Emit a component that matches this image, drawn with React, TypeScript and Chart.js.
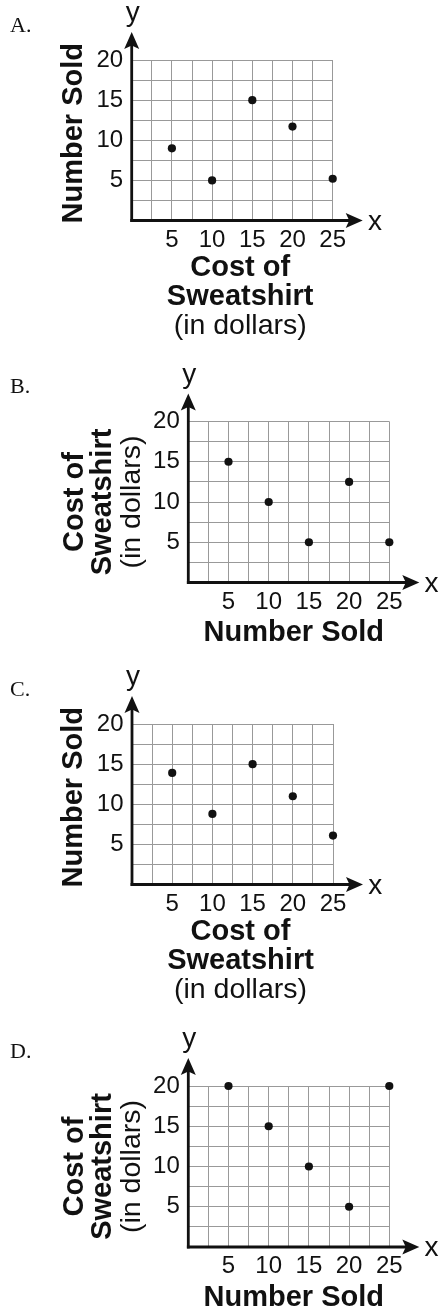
import React, { useEffect, useRef } from 'react';
import { Chart, registerables } from 'chart.js';

Chart.register(...registerables);

// ---- data ----
const xValues = [5, 10, 15, 20, 25];
const seriesA = [9, 5, 15, 11.7, 5.2];
const seriesB = [15, 10, 5, 12.5, 5];
const seriesC = [13.9, 8.8, 15, 11, 6.1];
const seriesD = [20, 15, 10, 5, 20];
const xTickLabels = ['5', '10', '15', '20', '25'];
const yTickLabels = ['5', '10', '15', '20'];
const xMax = 25;
const yMax = 20;
const gridStep = 2.5;
const costTitle = ['Cost of', 'Sweatshirt', '(in dollars)'];
const soldTitle = ['Number Sold'];
const panelLetters = ['A.', 'B.', 'C.', 'D.'];

const SANS = "'Liberation Sans', Arial, Helvetica, sans-serif";
const SERIF = "'Liberation Serif', 'Times New Roman', serif";
const INK = '#111111';
const GRID = '#999999';
const W = 440;
const Y_AXIS_W = 60;
const X_AXIS_H = 40;

type Area = { l: number; r: number; t: number; b: number };
type PanelDef = {
  letter: string;
  values: number[];
  top: number;
  height: number;
  area: Area;
  xTitle: string[];
  yTitle: string[];
};

const panels: PanelDef[] = [
  { letter: panelLetters[0], values: seriesA, top: 0, height: 350, area: { l: 131.7, r: 332.7, t: 60, b: 220.5 }, xTitle: costTitle, yTitle: soldTitle },
  { letter: panelLetters[1], values: seriesB, top: 330, height: 330, area: { l: 188.3, r: 389.3, t: 91.5, b: 252.5 }, xTitle: soldTitle, yTitle: costTitle },
  { letter: panelLetters[2], values: seriesC, top: 660, height: 345, area: { l: 132, r: 333, t: 64, b: 224.5 }, xTitle: costTitle, yTitle: soldTitle },
  { letter: panelLetters[3], values: seriesD, top: 1000, height: 310, area: { l: 188.3, r: 389.3, t: 86, b: 247 }, xTitle: soldTitle, yTitle: costTitle },
];

function lineFont(line: string) {
  return line.startsWith('(') ? `normal 28.5px ${SANS}` : `bold 29px ${SANS}`;
}

function makeDecorPlugin(p: PanelDef) {
  return {
    id: 'decor' + p.letter.replace('.', ''),
    afterDraw(chart: any) {
      const ctx: CanvasRenderingContext2D = chart.ctx;
      const ca = chart.chartArea;
      const xs = chart.scales.x;
      const ys = chart.scales.y;
      const l = xs.getPixelForValue(0);
      const b = ys.getPixelForValue(0);
      const t = ca.top;
      const r = ca.right;
      ctx.save();
      ctx.fillStyle = INK;
      ctx.strokeStyle = INK;
      ctx.lineWidth = 2.8;
      // y axis with arrow
      const yTip = t - 28;
      ctx.beginPath();
      ctx.moveTo(l, b + 1.4);
      ctx.lineTo(l, yTip + 12);
      ctx.stroke();
      ctx.beginPath();
      ctx.moveTo(l, yTip);
      ctx.lineTo(l + 7.5, yTip + 17);
      ctx.lineTo(l, yTip + 13.5);
      ctx.lineTo(l - 7.5, yTip + 17);
      ctx.closePath();
      ctx.fill();
      // x axis with arrow
      const xTip = r + 30;
      ctx.beginPath();
      ctx.moveTo(l - 1.4, b);
      ctx.lineTo(xTip - 12, b);
      ctx.stroke();
      ctx.beginPath();
      ctx.moveTo(xTip, b);
      ctx.lineTo(xTip - 17, b - 7.5);
      ctx.lineTo(xTip - 13.5, b);
      ctx.lineTo(xTip - 17, b + 7.5);
      ctx.closePath();
      ctx.fill();

      // axis letters
      ctx.font = `normal 28px ${SANS}`;
      ctx.textAlign = 'center';
      ctx.textBaseline = 'alphabetic';
      ctx.fillText('y', l + 1, t - 39);
      ctx.fillText('x', r + 42.3, b + 9);

      // panel letter
      ctx.font = `normal 22px ${SERIF}`;
      ctx.textAlign = 'left';
      ctx.fillText(p.letter, 10, t - 28.5);

      // x title
      const midX = (l + r) / 2;
      ctx.textAlign = 'center';
      if (p.xTitle.length === 3) {
        const offs = [55.5, 84.5, 113.5];
        p.xTitle.forEach((line, i) => {
          ctx.font = lineFont(line);
          ctx.fillText(line, midX + 8, b + offs[i]);
        });
      } else {
        p.xTitle.forEach((line) => {
          ctx.font = lineFont(line);
          ctx.fillText(line, midX + 5, b + 58.5);
        });
      }

      // y title (rotated)
      const midY = (t + b) / 2;
      const drawRot = (line: string, bx: number, cy: number) => {
        ctx.save();
        ctx.translate(bx, cy);
        ctx.rotate(-Math.PI / 2);
        ctx.font = lineFont(line);
        ctx.textAlign = 'center';
        ctx.textBaseline = 'alphabetic';
        ctx.fillText(line, 0, 0);
        ctx.restore();
      };
      if (p.yTitle.length === 3) {
        const offs = [105, 77, 48];
        p.yTitle.forEach((line, i) => drawRot(line, l - offs[i], midY));
      } else {
        p.yTitle.forEach((line) => drawRot(line, l - 50, midY - 7));
      }
      ctx.restore();
    },
  };
}

function Panel({ p }: { p: PanelDef }) {
  const ref = useRef<HTMLCanvasElement | null>(null);
  useEffect(() => {
    if (!ref.current) return;
    const tickFont = { family: SANS, size: 24, weight: 'normal' as const };
    const chart = new Chart(ref.current, {
      type: 'scatter',
      data: {
        datasets: [
          {
            data: xValues.map((x, i) => ({ x, y: p.values[i] })),
            pointRadius: 4.1,
            pointHoverRadius: 4.1,
            pointBackgroundColor: INK,
            pointBorderWidth: 0,
            borderColor: INK,
            showLine: false,
            clip: false as any,
          },
        ],
      },
      options: {
        responsive: false,
        animation: false,
        events: [],
        layout: {
          padding: {
            left: p.area.l - Y_AXIS_W,
            top: p.area.t,
            right: W - p.area.r,
            bottom: p.height - p.area.b - X_AXIS_H,
          },
        },
        plugins: { legend: { display: false }, tooltip: { enabled: false }, title: { display: false } },
        scales: {
          x: {
            type: 'linear',
            min: 0,
            max: xMax,
            afterFit: (s: any) => { s.height = X_AXIS_H; },
            border: { display: false },
            grid: { color: GRID, lineWidth: 1, drawTicks: false },
            ticks: {
              stepSize: gridStep,
              autoSkip: false,
              maxRotation: 0,
              minRotation: 0,
              padding: 5,
              color: INK,
              font: tickFont,
              callback: (v: any) => (xTickLabels.includes(String(v)) ? String(v) : ''),
            },
          },
          y: {
            type: 'linear',
            min: 0,
            max: yMax,
            afterFit: (s: any) => { s.width = Y_AXIS_W; },
            border: { display: false },
            grid: { color: GRID, lineWidth: 1, drawTicks: false },
            ticks: {
              stepSize: gridStep,
              autoSkip: false,
              padding: 8.5,
              color: INK,
              font: tickFont,
              callback: (v: any) => (yTickLabels.includes(String(v)) ? String(v) : ''),
            },
          },
        },
      },
      plugins: [makeDecorPlugin(p)],
    } as any);
    return () => chart.destroy();
  }, [p]);
  return (
    <canvas
      ref={ref}
      width={W}
      height={p.height}
      style={{ position: 'absolute', left: 0, top: p.top, width: W, height: p.height, display: 'block' }}
    />
  );
}

export default function App() {
  return (
    <div style={{ position: 'absolute', left: 0, top: 0, width: W, height: 1310, background: '#ffffff', overflow: 'hidden' }}>
      {panels.map((p) => (
        <Panel key={p.letter} p={p} />
      ))}
    </div>
  );
}
